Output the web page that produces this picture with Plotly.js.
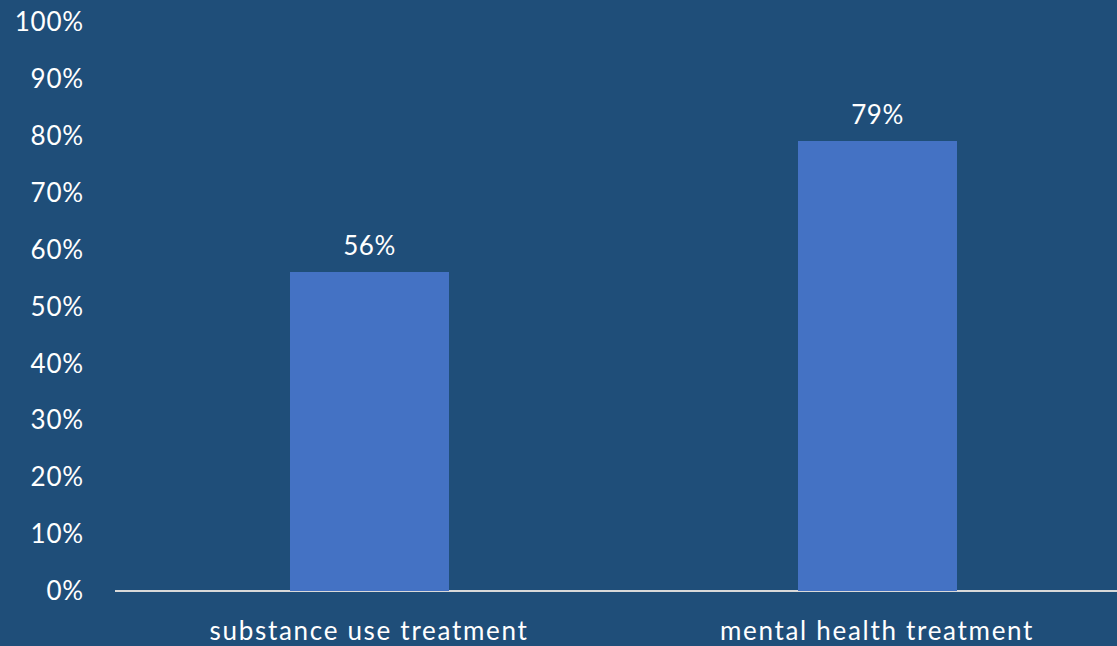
<!DOCTYPE html>
<html>
<head>
<meta charset="utf-8">
<script src="https://cdn.plot.ly/plotly-3.0.1.min.js"></script>
<style>
html,body{margin:0;padding:0;background:#1F4E79;}
#chart{width:1117px;height:646px;}
#chart .xtick text{letter-spacing:1.7px;}
#chart .ytick text{letter-spacing:0.8px;}
#chart .annotation-text{letter-spacing:0.5px;}
</style>
</head>
<body>
<div id="chart"></div>
<script>
const categories = ["substance use treatment", "mental health treatment"];
const values = [56, 79];
const valueLabels = ["56%", "79%"];
const yTickValues = [0,10,20,30,40,50,60,70,80,90,100];
const yTickLabels = ["0%","10%","20%","30%","40%","50%","60%","70%","80%","90%","100%"];

const fontFamily = "Lato, 'Open Sans', sans-serif";
const idx = categories.map((c,i)=>i);

const trace = {
  type: "bar",
  x: idx,
  y: values,
  width: 0.313,
  marker: {color: "#4472C4"},
  hoverinfo: "skip"
};

const annotations = idx.map((i)=>({
  x: i, y: values[i], xref: "x", yref: "y",
  text: valueLabels[i], showarrow: false,
  yanchor: "bottom", yshift: 9,
  font: {family: fontFamily, size: 26, color: "#FFFFFF"}
}));

const layout = {
  width: 1117, height: 646,
  margin: {l: 115, r: 0, t: 22, b: 55, pad: 0},
  paper_bgcolor: "#1F4E79",
  plot_bgcolor: "#1F4E79",
  showlegend: false,
  font: {family: fontFamily, size: 26, color: "#FFFFFF"},
  xaxis: {
    range: [-0.5, 1.4724],
    tickvals: idx,
    ticktext: categories,
    showgrid: false,
    zeroline: false,
    showline: false,
    ticks: "",
    ticklabelstandoff: 22,
    tickfont: {family: fontFamily, size: 26, color: "#FFFFFF"},
    fixedrange: true
  },
  yaxis: {
    range: [0, 100],
    tickvals: yTickValues,
    ticktext: yTickLabels,
    showgrid: false,
    zeroline: true,
    zerolinecolor: "#D9D9D9",
    zerolinewidth: 1.5,
    showline: false,
    ticks: "",
    ticklabelstandoff: 30,
    tickfont: {family: fontFamily, size: 26, color: "#FFFFFF"},
    fixedrange: true
  },
  annotations: annotations,
  bargap: 0
};

Plotly.newPlot("chart", [trace], layout, {displayModeBar: false, staticPlot: true});
</script>
</body>
</html>
